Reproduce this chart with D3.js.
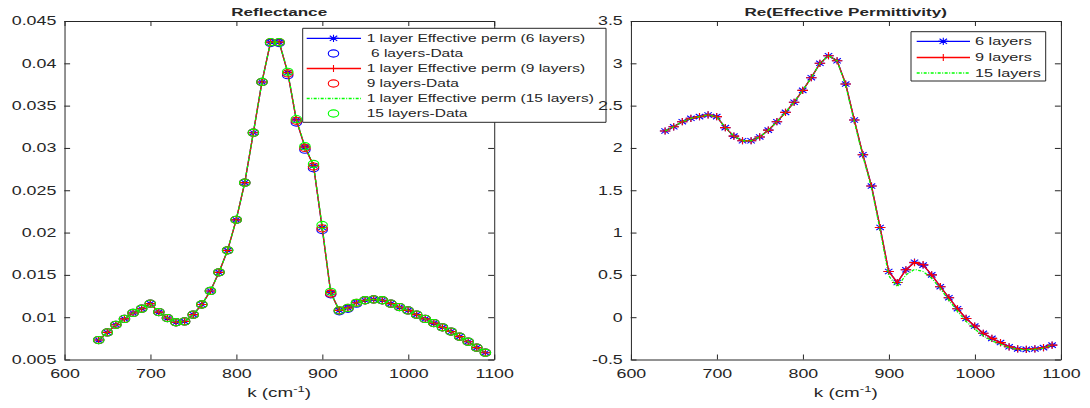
<!DOCTYPE html>
<html><head><meta charset="utf-8">
<script src="https://cdn.jsdelivr.net/npm/d3@7"></script>
<style>
body{margin:0;background:#fff}
svg{display:block}
text{font-family:"Liberation Sans",Arial,Helvetica,sans-serif;fill:#262626}
path,line,circle,rect{vector-effect:non-scaling-stroke}
</style>
</head><body>
<svg id="chart"></svg>
<script>
// ---------------- DATA ----------------
const kValues = [640,650,660,670,680,690,700,710,720,730,740,750,760,770,780,790,800,810,820,830,
  840,850,860,870,880,890,900,910,920,930,940,950,960,970,980,990,1000,1010,1020,1030,
  1040,1050,1060,1070,1080,1090];

const reflect6Eff = [0.0073,0.0082,0.0091,0.0098,0.0105,0.0110,0.0116,0.0106,0.0099,0.0094,
  0.0095,0.0103,0.0115,0.0131,0.0153,0.0179,0.0215,0.0259,0.0318,0.0378,
  0.0425,0.0425,0.0389,0.0333,0.0301,0.0279,0.0206,0.0129,0.0108,0.0111,
  0.0117,0.0120,0.0121,0.0120,0.0116,0.0112,0.0108,0.0103,0.0098,0.0093,
  0.0088,0.0083,0.0077,0.0071,0.0064,0.0058];
const reflect6Data = [0.0073,0.0082,0.0091,0.0098,0.0105,0.0110,0.0116,0.0106,0.0099,0.0094,
  0.0095,0.0103,0.0115,0.0131,0.0153,0.0179,0.0215,0.0259,0.0318,0.0378,
  0.0424,0.0424,0.0386,0.0330,0.0298,0.0276,0.0203,0.0127,0.0107,0.0110,
  0.0116,0.0120,0.0121,0.0120,0.0116,0.0112,0.0108,0.0103,0.0098,0.0093,
  0.0088,0.0083,0.0077,0.0071,0.0064,0.0058];
const reflect9Eff = [0.0073,0.0082,0.0091,0.0098,0.0105,0.0110,0.0116,0.0106,0.0099,0.0094,
  0.0095,0.0103,0.0115,0.0131,0.0153,0.0179,0.0215,0.0259,0.0318,0.0378,
  0.0425,0.0425,0.0389,0.0333,0.0301,0.0279,0.0206,0.0129,0.0108,0.0111,
  0.0117,0.0120,0.0121,0.0120,0.0116,0.0112,0.0108,0.0103,0.0098,0.0093,
  0.0088,0.0083,0.0077,0.0071,0.0064,0.0058];
const reflect9Data = [0.0073,0.0082,0.0091,0.0098,0.0105,0.0110,0.0116,0.0106,0.0099,0.0094,
  0.0095,0.0103,0.0115,0.0131,0.0153,0.0179,0.0215,0.0259,0.0318,0.0378,
  0.0425,0.0425,0.0388,0.0332,0.0300,0.0278,0.0205,0.0128,0.0108,0.0111,
  0.0117,0.0120,0.0121,0.0120,0.0116,0.0112,0.0108,0.0103,0.0098,0.0093,
  0.0088,0.0083,0.0077,0.0071,0.0064,0.0058];
const reflect15Eff = [0.0073,0.0082,0.0091,0.0098,0.0105,0.0110,0.0116,0.0106,0.0099,0.0094,
  0.0095,0.0103,0.0115,0.0131,0.0153,0.0179,0.0215,0.0259,0.0318,0.0378,
  0.0425,0.0425,0.0390,0.0334,0.0302,0.0280,0.0208,0.0129,0.0108,0.0111,
  0.0117,0.0120,0.0121,0.0120,0.0116,0.0112,0.0108,0.0103,0.0098,0.0093,
  0.0088,0.0083,0.0077,0.0071,0.0064,0.0058];
const reflect15Data = [0.0073,0.0082,0.0091,0.0098,0.0105,0.0110,0.0116,0.0106,0.0099,0.0094,
  0.0095,0.0103,0.0115,0.0131,0.0153,0.0179,0.0215,0.0259,0.0318,0.0378,
  0.0425,0.0425,0.0390,0.0334,0.0302,0.0281,0.0209,0.0130,0.0108,0.0111,
  0.0117,0.0120,0.0121,0.0120,0.0116,0.0112,0.0108,0.0103,0.0098,0.0093,
  0.0088,0.0083,0.0077,0.0071,0.0064,0.0058];

const perm6 = [2.20,2.25,2.31,2.35,2.37,2.39,2.37,2.24,2.14,2.085,
  2.085,2.13,2.21,2.31,2.42,2.54,2.68,2.83,3.00,3.09,
  3.03,2.755,2.33,1.92,1.55,1.06,0.54,0.41,0.56,0.65,
  0.615,0.50,0.36,0.23,0.10,-0.015,-0.105,-0.19,-0.25,-0.30,
  -0.35,-0.375,-0.38,-0.375,-0.36,-0.33];
const perm9 = [2.20,2.25,2.31,2.35,2.37,2.39,2.37,2.24,2.14,2.085,
  2.085,2.13,2.21,2.31,2.42,2.54,2.68,2.83,3.00,3.09,
  3.03,2.755,2.33,1.92,1.55,1.06,0.54,0.41,0.56,0.645,
  0.62,0.50,0.36,0.23,0.10,-0.015,-0.105,-0.19,-0.25,-0.30,
  -0.35,-0.375,-0.38,-0.375,-0.36,-0.33];
const perm15 = [2.20,2.25,2.31,2.35,2.37,2.39,2.37,2.24,2.14,2.085,
  2.085,2.13,2.21,2.31,2.42,2.54,2.68,2.83,3.00,3.09,
  3.03,2.74,2.31,1.90,1.53,1.03,0.49,0.36,0.50,0.565,
  0.54,0.46,0.34,0.20,0.07,-0.05,-0.14,-0.22,-0.28,-0.32,
  -0.36,-0.38,-0.385,-0.38,-0.365,-0.33];

const xTicks = [600,700,800,900,1000,1100];
const reflectTicks = [0.005,0.01,0.015,0.02,0.025,0.03,0.035,0.04,0.045];
const permTicks = [-0.5,0,0.5,1,1.5,2,2.5,3,3.5];

const reflectTitle = "Reflectance";
const permTitle = "Re(Effective Permittivity)";
const reflectLegend = ["1 layer Effective perm (6 layers)"," 6 layers-Data","1 layer Effective perm (9 layers)","9 layers-Data","1 layer Effective perm (15 layers)","15 layers-Data"];
const permLegend = ["6 layers","9 layers","15 layers"];

// ---------------- DRAW ----------------
const SX = 1.45, W = 1090, H = 408;
const svg = d3.select('#chart').attr('width', W).attr('height', H)
  .attr('viewBox', `0 0 ${W / SX} ${H}`).attr('preserveAspectRatio', 'none');

const BLUE = '#0000ff', RED = '#ff0000', GREEN = '#00ff00', AX = '#262626';
const MR = 3.6, LW = 1.3, MW = 1.1;

function markerPath(type, r) {
  if (type === 'star') {
    const d = r * 0.72;
    return `M${-r},0H${r}M0,${-r}V${r}M${-d},${-d}L${d},${d}M${-d},${d}L${d},${-d}`;
  }
  if (type === 'plus') return `M${-r},0H${r}M0,${-r}V${r}`;
  return null;
}
function drawMarker(g, type, color, cx, cy) {
  if (type === 'circle') {
    g.append('circle').attr('cx', cx).attr('cy', cy).attr('r', MR)
      .attr('fill', 'none').attr('stroke', color).attr('stroke-width', MW);
  } else {
    g.append('path').attr('transform', `translate(${cx},${cy})`).attr('d', markerPath(type, MR))
      .attr('fill', 'none').attr('stroke', color).attr('stroke-width', MW);
  }
}

function panel(cfg) {
  const x = d3.scaleLinear().domain([600, 1100]).range([cfg.left / SX, cfg.right / SX]);
  const y = d3.scaleLinear().domain(cfg.yDomain).range([cfg.bottom, cfg.top]);
  const g = svg.append('g');

  const styleAxis = sel => {
    sel.selectAll('path.domain').attr('stroke', AX).attr('stroke-width', 1);
    sel.selectAll('.tick line').attr('stroke', AX).attr('stroke-width', 1);
    sel.selectAll('text').attr('font-size', 12.3).attr('fill', AX)
      .style('font-family', '"Liberation Sans",Arial,sans-serif');
  };
  g.append('g').attr('transform', `translate(0,${cfg.bottom})`)
    .call(d3.axisBottom(x).tickValues(xTicks).tickSizeInner(-5).tickSizeOuter(0).tickPadding(10).tickFormat(d3.format('d')))
    .call(styleAxis);
  g.append('g').attr('transform', `translate(0,${cfg.top})`)
    .call(d3.axisTop(x).tickValues(xTicks).tickSizeInner(-5).tickSizeOuter(0).tickFormat(''))
    .call(styleAxis);
  g.append('g').attr('transform', `translate(${cfg.left / SX},0)`)
    .call(d3.axisLeft(y).tickValues(cfg.yTicks).tickSizeInner(-4).tickSizeOuter(0).tickPadding(5.5).tickFormat(d => String(+d.toFixed(3))))
    .call(styleAxis);
  g.append('g').attr('transform', `translate(${cfg.right / SX},0)`)
    .call(d3.axisRight(y).tickValues(cfg.yTicks).tickSizeInner(-4).tickSizeOuter(0).tickFormat(''))
    .call(styleAxis);

  // series
  const plot = g.append('g');
  cfg.series.forEach(s => {
    const pts = kValues.map((k, i) => [k, s.values[i]]);
    if (s.line) {
      plot.append('path').datum(pts)
        .attr('d', d3.line().x(d => x(d[0])).y(d => y(d[1])))
        .attr('fill', 'none').attr('stroke', s.color).attr('stroke-width', LW)
        .attr('stroke-dasharray', s.dash || null);
    }
    if (s.marker) {
      const mg = plot.append('g');
      pts.forEach(p => drawMarker(mg, s.marker, s.color, x(p[0]), y(p[1])));
    }
  });

  // title
  g.append('text').attr('x', (cfg.left + cfg.right) / 2 / SX).attr('y', 16)
    .attr('text-anchor', 'middle').attr('font-size', 11.8).attr('font-weight', 'bold')
    .attr('fill', '#000').text(cfg.title);
  // x label
  const xl = g.append('text').attr('x', (cfg.left + cfg.right) / 2 / SX).attr('y', 397)
    .attr('text-anchor', 'middle').attr('font-size', 13).attr('fill', AX);
  xl.append('tspan').text('k (cm');
  xl.append('tspan').attr('dy', -5).attr('font-size', 9).text('-1');
  xl.append('tspan').attr('dy', 5).text(')');

  // legend
  const L = cfg.legend;
  const lg = g.append('g');
  lg.append('rect').attr('x', L.x0 / SX).attr('y', L.y0).attr('width', (L.x1 - L.x0) / SX).attr('height', L.y1 - L.y0)
    .attr('fill', '#fff').attr('stroke', AX).attr('stroke-width', 1);
  L.items.forEach((it, i) => {
    const yy = L.rows[i];
    if (it.line) {
      lg.append('line').attr('x1', L.lx0 / SX).attr('x2', L.lx1 / SX).attr('y1', yy).attr('y2', yy)
        .attr('stroke', it.color).attr('stroke-width', LW).attr('stroke-dasharray', it.dash || null);
    }
    if (it.marker) drawMarker(lg, it.marker, it.color, L.mx / SX, yy);
    lg.append('text').attr('x', L.tx / SX).attr('y', yy).attr('dy', '0.35em')
      .attr('font-size', L.fs).attr('fill', '#000').style('white-space', 'pre').text(it.label);
  });
}

const DASH = '3,1.5,1,1.5';

panel({
  left: 64.3, right: 494, top: 21, bottom: 359.5,
  yDomain: [0.005, 0.045], yTicks: reflectTicks, title: reflectTitle,
  series: [
    {values: reflect6Eff, color: BLUE, line: true, marker: 'star'},
    {values: reflect6Data, color: BLUE, marker: 'circle'},
    {values: reflect9Eff, color: RED, line: true, marker: 'plus'},
    {values: reflect9Data, color: RED, marker: 'circle'},
    {values: reflect15Eff, color: GREEN, line: true, dash: DASH},
    {values: reflect15Data, color: GREEN, marker: 'circle'}
  ],
  legend: {
    x0: 302.7, x1: 606, y0: 28.3, y1: 122.3, fs: 10.7,
    rows: [38.3, 53.5, 68.5, 83.5, 98.5, 113.5],
    lx0: 306.7, lx1: 361, mx: 333.5, tx: 366.7,
    items: [
      {label: reflectLegend[0], color: BLUE, line: true, marker: 'star'},
      {label: reflectLegend[1], color: BLUE, marker: 'circle'},
      {label: reflectLegend[2], color: RED, line: true, marker: 'plus'},
      {label: reflectLegend[3], color: RED, marker: 'circle'},
      {label: reflectLegend[4], color: GREEN, line: true, dash: DASH},
      {label: reflectLegend[5], color: GREEN, marker: 'circle'}
    ]
  }
});

panel({
  left: 630.7, right: 1060.7, top: 21, bottom: 359.5,
  yDomain: [-0.5, 3.5], yTicks: permTicks, title: permTitle,
  series: [
    {values: perm6, color: BLUE, line: true, marker: 'star'},
    {values: perm9, color: RED, line: true, marker: 'plus'},
    {values: perm15, color: GREEN, line: true, dash: DASH}
  ],
  legend: {
    x0: 911, x1: 1045.7, y0: 31.7, y1: 81, fs: 11.2,
    rows: [41.3, 57.5, 73],
    lx0: 916.7, lx1: 970, mx: 943.3, tx: 975,
    items: [
      {label: permLegend[0], color: BLUE, line: true, marker: 'star'},
      {label: permLegend[1], color: RED, line: true, marker: 'plus'},
      {label: permLegend[2], color: GREEN, line: true, dash: DASH}
    ]
  }
});
</script>
</body></html>
